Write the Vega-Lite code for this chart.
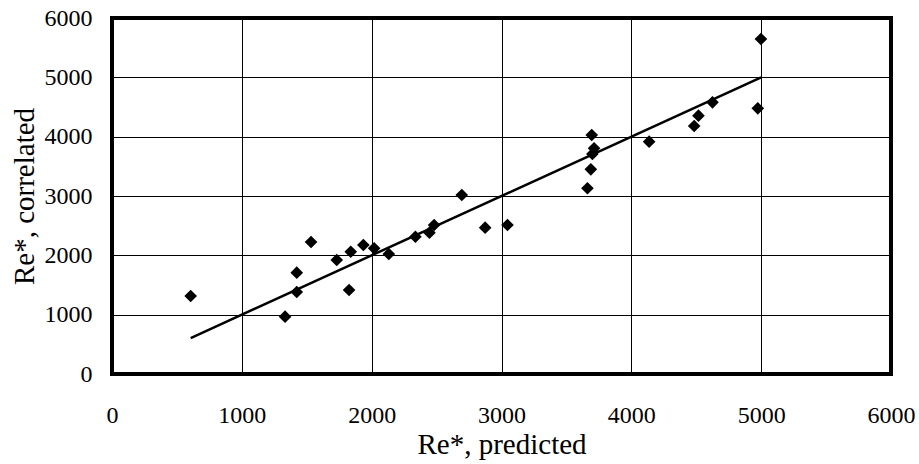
{
  "$schema": "https://vega.github.io/schema/vega-lite/v6.json",
  "autosize": "none",
  "width": 779,
  "height": 356,
  "padding": {"left": 112, "top": 18, "right": 28, "bottom": 90},
  "background": "white",
  "config": {
    "font": "Liberation Serif",
    "view": {"stroke": "black", "strokeWidth": 4},
    "axis": {
      "labelFont": "Liberation Serif",
      "titleFont": "Liberation Serif",
      "labelFontSize": 24,
      "titleFontSize": 29,
      "labelColor": "black",
      "titleColor": "black",
      "titleFontWeight": "normal",
      "ticks": false,
      "domain": false,
      "gridColor": "black",
      "gridWidth": 1,
      "gridOpacity": 1,
      "format": "d",
      "labelFlush": false,
      "labelOverlap": false
    }
  },
  "datasets": {
    "points": [
      {"predicted": 606, "correlated": 1315},
      {"predicted": 1333, "correlated": 966},
      {"predicted": 1423, "correlated": 1708},
      {"predicted": 1423, "correlated": 1382},
      {"predicted": 1533, "correlated": 2225},
      {"predicted": 1731, "correlated": 1921},
      {"predicted": 1826, "correlated": 1416},
      {"predicted": 1839, "correlated": 2061},
      {"predicted": 1936, "correlated": 2174},
      {"predicted": 2019, "correlated": 2118},
      {"predicted": 2132, "correlated": 2022},
      {"predicted": 2337, "correlated": 2314},
      {"predicted": 2445, "correlated": 2382},
      {"predicted": 2481, "correlated": 2511},
      {"predicted": 2694, "correlated": 3017},
      {"predicted": 2874, "correlated": 2466},
      {"predicted": 3046, "correlated": 2511},
      {"predicted": 3662, "correlated": 3130},
      {"predicted": 3688, "correlated": 3450},
      {"predicted": 3700, "correlated": 3708},
      {"predicted": 3713, "correlated": 3804},
      {"predicted": 3695, "correlated": 4028},
      {"predicted": 4137, "correlated": 3916},
      {"predicted": 4484, "correlated": 4180},
      {"predicted": 4517, "correlated": 4354},
      {"predicted": 4625, "correlated": 4579},
      {"predicted": 4974, "correlated": 4478},
      {"predicted": 4998, "correlated": 5646}
    ],
    "fit": [
      {"predicted": 606, "correlated": 606},
      {"predicted": 5000, "correlated": 5000}
    ]
  },
  "layer": [
    {
      "data": {"name": "fit"},
      "mark": {"type": "line", "color": "black", "strokeWidth": 2.5},
      "encoding": {
        "x": {"field": "predicted", "type": "quantitative", "scale": {"domain": [0, 6000], "nice": false}, "axis": {"title": "Re*, predicted", "values": [0, 1000, 2000, 3000, 4000, 5000, 6000], "labelPadding": 29, "titleBaseline": "alphabetic", "titleY": 79}},
        "y": {"field": "correlated", "type": "quantitative", "scale": {"domain": [0, 6000], "nice": false}, "axis": {"title": "Re*, correlated", "values": [0, 1000, 2000, 3000, 4000, 5000, 6000], "labelPadding": 20, "titleBaseline": "alphabetic", "titleX": -79}}
      }
    },
    {
      "data": {"name": "points"},
      "mark": {"type": "point", "shape": "diamond", "filled": true, "color": "black", "opacity": 1, "size": 160},
      "encoding": {
        "x": {"field": "predicted", "type": "quantitative"},
        "y": {"field": "correlated", "type": "quantitative"}
      }
    }
  ]
}
